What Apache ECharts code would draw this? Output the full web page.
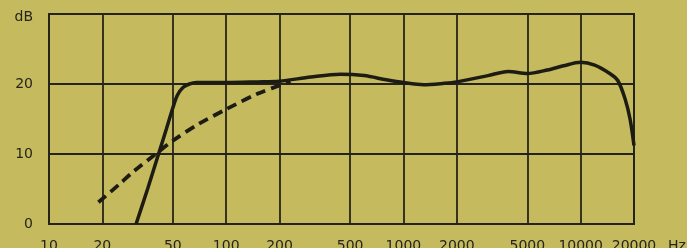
<!DOCTYPE html>
<html>
<head>
<meta charset="utf-8">
<script src="https://cdn.jsdelivr.net/npm/echarts@6/dist/echarts.min.js"></script>
<style>
  html, body { margin: 0; padding: 0; background: #c5ba5d; }
  #chart { width: 687px; height: 248px; }
</style>
</head>
<body>
<div id="chart"></div>
<script>
// frequency ticks (Hz) and level ticks (dB)
var freqTicks = [10, 20, 50, 100, 200, 500, 1000, 2000, 5000, 10000, 20000];
var levelTicks = [0, 10, 20, 30];

// solid response curve: [Hz, dB]
var solidFreq = [31, 36, 41.5, 46, 50, 53, 57, 62, 68, 80, 100, 150, 200, 300, 440, 600, 800, 1000, 1300, 1700, 2000, 3000, 3900, 5000, 6500, 8000, 10000, 12000, 14600, 16200, 17800, 19000, 20000];
var solidLevel = [0, 5, 10, 13.6, 16.6, 18.4, 19.5, 20.0, 20.2, 20.2, 20.2, 20.3, 20.4, 21.0, 21.4, 21.2, 20.6, 20.2, 19.9, 20.1, 20.3, 21.2, 21.8, 21.5, 22.0, 22.6, 23.1, 22.7, 21.5, 20.5, 17.9, 15.0, 11.2];

// dashed response curve: [Hz, dB]
var dashFreq = [19, 25, 30, 40, 50, 70, 100, 150, 200, 230];
var dashLevel = [3.1, 5.7, 7.5, 10.0, 11.9, 14.3, 16.4, 18.6, 19.8, 20.4];

function pairs(xs, ys) {
  return xs.map(function (x, i) { return [x, ys[i]]; });
}

var ink = '#26241a';
var chart = echarts.init(document.getElementById('chart'));
chart.setOption({
  backgroundColor: '#c5ba5d',
  animation: false,
  grid: {
    left: 49, right: 53, top: 14, bottom: 24,
    outerBoundsMode: 'none',
    containLabel: false,
    show: true,
    borderWidth: 2,
    borderColor: ink,
    backgroundColor: 'transparent'
  },
  xAxis: {
    type: 'log',
    logBase: 10,
    min: 10,
    max: 20000,
    name: 'Hz',
    nameLocation: 'end',
    nameGap: 34,
    nameTextStyle: {
      color: ink, fontFamily: 'DejaVu Sans', fontSize: 14,
      verticalAlign: 'top', padding: [15, 0, 0, 0]
    },
    axisLine: { show: true, lineStyle: { color: ink, width: 2 } },
    axisTick: { show: false, customValues: freqTicks },
    axisLabel: {
      customValues: freqTicks,
      margin: 15,
      color: ink,
      fontFamily: 'DejaVu Sans',
      fontSize: 14,
      formatter: function (v) { return String(Math.round(v)); }
    },
    splitLine: { show: true, lineStyle: { color: ink, width: 1.8 } }
  },
  yAxis: {
    type: 'value',
    min: 0,
    max: 30,
    interval: 10,
    axisLine: { show: true, lineStyle: { color: ink, width: 2 } },
    axisTick: { show: false },
    axisLabel: {
      margin: 16,
      color: ink,
      fontFamily: 'DejaVu Sans',
      fontSize: 14,
      formatter: function (v) { return v === levelTicks[3] ? '{u|dB}' : String(v); },
      rich: {
        u: { color: ink, fontFamily: 'DejaVu Sans', fontSize: 14, padding: [6, 0, 0, 0] }
      }
    },
    splitLine: { show: true, lineStyle: { color: ink, width: 1.8 } }
  },
  series: [
    {
      type: 'line',
      data: pairs(solidFreq, solidLevel),
      smooth: 0.3,
      showSymbol: false,
      lineStyle: { color: '#1c1b14', width: 3.5 }
    },
    {
      type: 'line',
      data: pairs(dashFreq, dashLevel),
      smooth: 0.3,
      showSymbol: false,
      lineStyle: { color: '#1c1b14', width: 3.8, type: [10, 6] }
    }
  ]
});
</script>
</body>
</html>
